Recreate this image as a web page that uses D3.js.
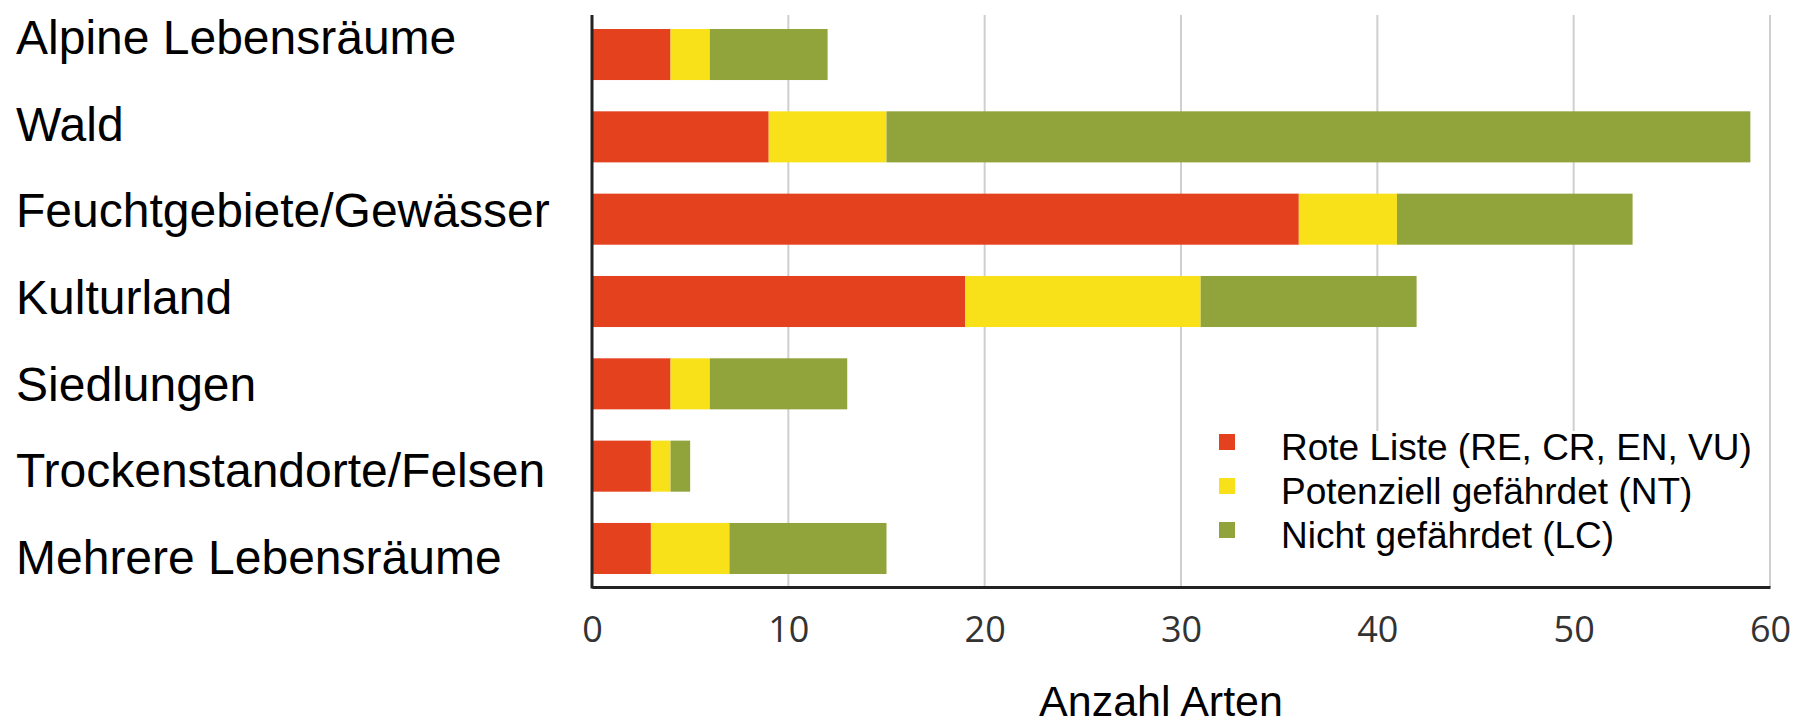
<!DOCTYPE html>
<html>
<head>
<meta charset="utf-8">
<script src="https://cdn.jsdelivr.net/npm/d3@7"></script>
<style>
    body { margin: 0; background: #fff; }
    svg { display: block; }
</style>
</head>
<body>
<div class="vis-barchart"></div>
<script>
const categories = ['Alpine Lebensräume', 'Wald', 'Feuchtgebiete/Gewässer', 'Kulturland',
    'Siedlungen', 'Trockenstandorte/Felsen', 'Mehrere Lebensräume'];
const roteListe = [4, 9, 36, 19, 4, 3, 3];
const potenziell = [2, 6, 5, 12, 2, 1, 4];
const nichtGefaehrdet = [6, 44, 12, 11, 7, 1, 8];
const seriesNames = ['Rote Liste (RE, CR, EN, VU)', 'Potenziell gefährdet (NT)', 'Nicht gefährdet (LC)'];
const xTicks = [0, 10, 20, 30, 40, 50, 60];
const xTitle = 'Anzahl Arten';

const colors = ['#e4411f', '#f9e11a', '#91a33b'];
const outerWidth = 1794, outerHeight = 723;

const svg = d3.select('.vis-barchart').append('svg')
    .attr('width', outerWidth)
    .attr('height', outerHeight);

const dataset = categories.map((c, i) => ({
    label: c, rot: roteListe[i], nt: potenziell[i], lc: nichtGefaehrdet[i]
}));
const keys = ['rot', 'nt', 'lc'];
const stacked = d3.stack().keys(keys)(dataset);

// scales
const x = d3.scaleLinear().domain([0, 60]).range([592, 1770]);
const y = d3.scaleBand()
    .domain(categories)
    .range([15, 588])
    .paddingInner(0.38)
    .paddingOuter(0.17);
// category labels sit on their own spacing
const yLabel = d3.scalePoint().domain(categories).range([54, 574]);

// gridlines
svg.append('g')
    .selectAll('line')
    .data(xTicks.slice(1))
    .enter().append('line')
    .attr('x1', d => x(d)).attr('x2', d => x(d))
    .attr('y1', 15).attr('y2', 587)
    .attr('stroke', '#cfcfcf')
    .attr('stroke-width', 2);

// bars
svg.append('g')
    .selectAll('g')
    .data(stacked)
    .enter().append('g')
    .attr('fill', (d, i) => colors[i])
    .selectAll('rect')
    .data(d => d)
    .enter().append('rect')
    .attr('x', d => x(d[0]))
    .attr('y', d => y(d.data.label))
    .attr('width', d => x(d[1]) - x(d[0]))
    .attr('height', y.bandwidth());

// legend box hides gridlines behind it
const legend = svg.append('g');
legend.append('rect')
    .attr('x', 1200).attr('y', 431)
    .attr('width', 560).attr('height', 155)
    .attr('fill', '#fff');
const legendY = d3.scalePoint().domain(seriesNames).range([447, 535]);
const items = legend.selectAll('.item')
    .data(seriesNames)
    .enter().append('g')
    .attr('class', 'item');
items.append('rect')
    .attr('x', 1219)
    .attr('y', d => legendY(d) - 13)
    .attr('width', 16).attr('height', 16)
    .attr('fill', (d, i) => colors[i]);
items.append('text')
    .attr('x', 1281)
    .attr('y', d => legendY(d) + 13)
    .attr('font-family', 'Liberation Sans, Arial, sans-serif')
    .attr('font-size', 37)
    .attr('fill', '#000')
    .text(d => d);

// x axis
const xAxis = svg.append('g')
    .attr('transform', 'translate(0,587)')
    .call(d3.axisBottom(x).tickValues(xTicks).tickSize(0).tickPadding(29));
xAxis.select('.domain').attr('stroke', '#222').attr('stroke-width', 3);
xAxis.selectAll('text')
    .attr('font-family', 'Open Sans, sans-serif')
    .attr('font-size', 36)
    .attr('fill', '#333');

// y axis line
svg.append('line')
    .attr('x1', 592).attr('x2', 592)
    .attr('y1', 15).attr('y2', 588.5)
    .attr('stroke', '#222')
    .attr('stroke-width', 3);

// category labels
svg.append('g')
    .selectAll('text')
    .data(categories)
    .enter().append('text')
    .attr('x', 16)
    .attr('y', d => yLabel(d))
    .attr('font-family', 'Liberation Sans, Arial, sans-serif')
    .attr('font-size', 48)
    .attr('fill', '#000')
    .text(d => d);

// axis title
svg.append('text')
    .attr('x', 1161)
    .attr('y', 716)
    .attr('text-anchor', 'middle')
    .attr('font-family', 'Liberation Sans, Arial, sans-serif')
    .attr('font-size', 43)
    .attr('fill', '#000')
    .text(xTitle);
</script>
</body>
</html>
